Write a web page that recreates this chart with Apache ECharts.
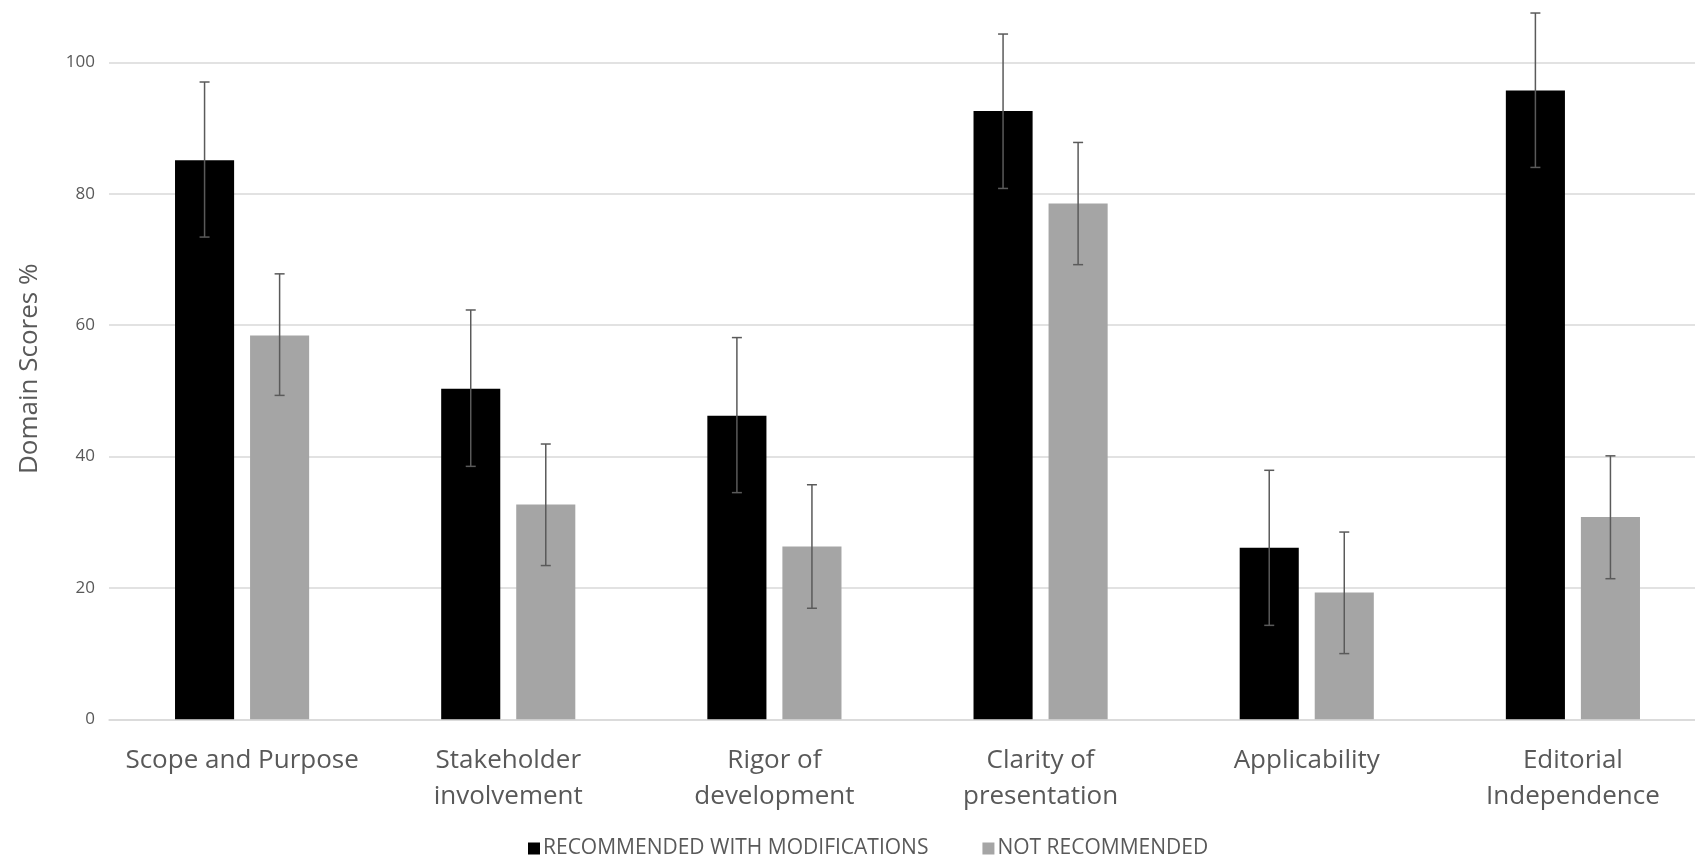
<!DOCTYPE html>
<html>
<head>
<meta charset="utf-8">
<script src="https://cdn.jsdelivr.net/npm/echarts@6/dist/echarts.min.js"></script>
<style>html,body{margin:0;padding:0;background:#fff;}#c{width:1695px;height:861px;}</style>
</head>
<body>
<div id="c"></div>
<script>
const categories = ['Scope and Purpose', 'Stakeholder\ninvolvement', 'Rigor of\ndevelopment', 'Clarity of\npresentation', 'Applicability', 'Editorial\nIndependence'];
const seriesNames = ['RECOMMENDED WITH MODIFICATIONS', 'NOT RECOMMENDED'];
const recMean = [85.1, 50.3, 46.2, 92.6, 26.1, 95.7];
const recLow  = [73.4, 38.5, 34.5, 80.8, 14.3, 84.0];
const recHigh = [97.0, 62.3, 58.1, 104.3, 37.9, 107.5];
const notMean = [58.4, 32.7, 26.3, 78.5, 19.3, 30.8];
const notLow  = [49.3, 23.4, 16.9, 69.2, 10.0, 21.4];
const notHigh = [67.8, 41.9, 35.7, 87.8, 28.5, 40.1];
const yTicks = [0, 20, 40, 60, 80, 100];

const BAR_FRAC = 0.222, GAP_FRAC = 0.27;
const FONT = '"Open Sans", sans-serif';

function errSeries(name, low, high, sign) {
  return {
    type: 'custom', name: name + ' err', silent: true, clip: false, z: 5,
    data: low.map((l, i) => [i, l, high[i]]),
    renderItem: function (params, api) {
      const i = api.value(0);
      const band = api.size([1, 0])[0];
      const off = sign * band * (BAR_FRAC + BAR_FRAC * GAP_FRAC) / 2;
      const pLow = api.coord([i, api.value(1)]);
      const pHigh = api.coord([i, api.value(2)]);
      const x = pLow[0] + off;
      const cap = 5;
      const st = { stroke: '#5a5a5a', lineWidth: 1.5 };
      return { type: 'group', children: [
        { type: 'line', shape: { x1: x, y1: pLow[1], x2: x, y2: pHigh[1] }, style: st },
        { type: 'line', shape: { x1: x - cap, y1: pLow[1], x2: x + cap, y2: pLow[1] }, style: st },
        { type: 'line', shape: { x1: x - cap, y1: pHigh[1], x2: x + cap, y2: pHigh[1] }, style: st }
      ]};
    }
  };
}

const chart = echarts.init(document.getElementById('c'));
chart.setOption({
  animation: false,
  backgroundColor: '#ffffff',
  textStyle: { fontFamily: FONT },
  grid: { left: 109, top: 62.3, right: -11, bottom: 141.7, containLabel: false, outerBoundsMode: 'none' },
  legend: {
    data: seriesNames,
    left: 523, top: 833,
    itemWidth: 12, itemHeight: 12, itemGap: 54,
    icon: 'rect',
    textStyle: { fontFamily: FONT, fontSize: 21, color: '#595959', padding: [0, 0, 0, -2] }
  },
  xAxis: {
    type: 'category', data: categories,
    axisLine: { lineStyle: { color: '#d9d9d9', width: 1.5 } },
    axisTick: { show: false },
    axisLabel: { color: '#595959', fontSize: 26, lineHeight: 36, margin: 23, fontFamily: FONT, interval: 0 }
  },
  yAxis: {
    type: 'value', min: 0, max: 100, interval: 20,
    name: 'Domain Scores %', nameLocation: 'middle', nameGap: 66,
    nameTextStyle: { color: '#595959', fontSize: 26, fontFamily: FONT, padding: [0, 0, 0, 44] },
    axisLine: { show: false }, axisTick: { show: false },
    axisLabel: { color: '#595959', fontSize: 17, margin: 14, fontFamily: FONT,
      formatter: v => yTicks.indexOf(v) >= 0 ? String(v) : '' },
    splitLine: { lineStyle: { color: '#d9d9d9', width: 1.5 } }
  },
  series: [
    { type: 'bar', name: seriesNames[0], data: recMean, barWidth: (BAR_FRAC * 100) + '%', barGap: (GAP_FRAC * 100) + '%',
      itemStyle: { color: '#000000' } },
    { type: 'bar', name: seriesNames[1], data: notMean, barWidth: (BAR_FRAC * 100) + '%', barGap: (GAP_FRAC * 100) + '%',
      itemStyle: { color: '#a5a5a5' } },
    errSeries(seriesNames[0], recLow, recHigh, -1),
    errSeries(seriesNames[1], notLow, notHigh, 1)
  ]
});
</script>
</body>
</html>
